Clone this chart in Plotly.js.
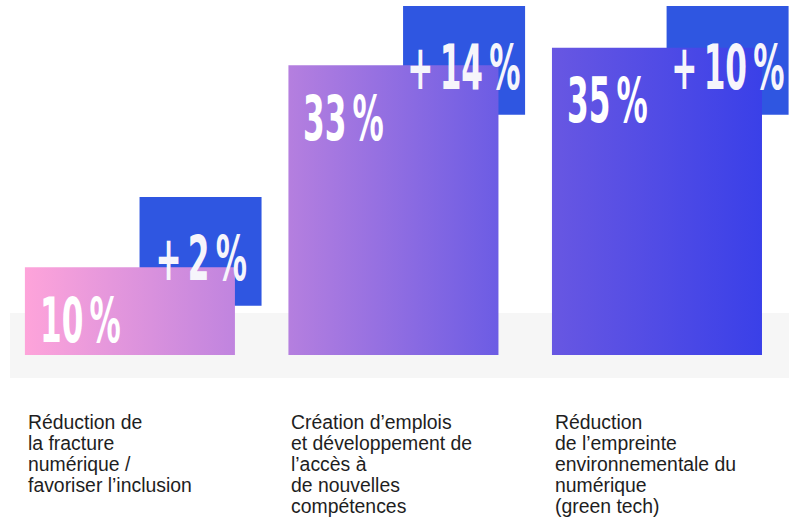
<!DOCTYPE html>
<html><head><meta charset="utf-8">
<script src="https://cdn.plot.ly/plotly-3.0.1.min.js"></script>
<style>html,body{margin:0;padding:0;background:#fff}#chart{width:789px;height:518px}</style>
</head><body><div id="chart"></div>
<script>
// ---- data ----
const categories = [0, 1, 2];
const shares = [10, 33, 35];          // % share (bar)
const increases = [2, 14, 10];        // increase (blue square)
const labelLines = [
  ["Réduction de", "la fracture", "numérique /", "favoriser l’inclusion"],
  ["Création d’emplois", "et développement de", "l’accès à", "de nouvelles", "compétences"],
  ["Réduction", "de l’empreinte", "environnementale du", "numérique", "(green tech)"]
];

// ---- layout constants ----
const BAR_W = 0.797, SQ_W = 0.463, SQ_OFF = 0.268, SQ_H = 12.4, SQ_ABOVE = 8, Y_TOP = 39.75;
const BIG_FONT = "DejaVu Sans Condensed, DejaVu Sans, sans-serif";
const BIG_SIZE = 63, SQUEEZE = 0.55;
const LBL_FONT = "Liberation Sans, Arial, Helvetica, sans-serif";
const grad = {type: 'horizontal', start: -BAR_W/2, stop: 2 + BAR_W/2,
  colorscale: [[0, '#fea4da'], [0.286, '#c084df'], [0.357, '#b57fdf'], [0.643, '#6c5ce4'], [0.714, '#6857e2'], [1, '#3a40e8']]};

const traces = [];
categories.forEach((c, i) => {
  const l = c - BAR_W/2, r = c + BAR_W/2, v = shares[i];
  traces.push({type: 'scatter', mode: 'lines', x: [l, r, r, l, l], y: [0, 0, v, v, 0],
    fill: 'toself', fillgradient: grad, fillcolor: '#9a70e0', line: {width: 0, color: 'rgba(0,0,0,0)'},
    hoverinfo: 'skip', showlegend: false});
});
const sqTop = shares.map(v => Math.min(v + SQ_ABOVE, Y_TOP));
traces.push({type: 'bar', x: categories, y: categories.map(() => SQ_H), base: sqTop.map(t => t - SQ_H),
  width: SQ_W, offset: SQ_OFF - SQ_W/2, marker: {color: 'rgba(29,72,222,0.92)', line: {width: 0}},
  hoverinfo: 'skip', showlegend: false});

const annotations = [];
const bigIdx = {};   // index -> 'left' | 'center'
categories.forEach((c, i) => {
  bigIdx[annotations.length] = 'left';
  annotations.push({x: c - BAR_W/2, y: shares[i], xref: 'x', yref: 'y', xanchor: 'left', yanchor: 'middle',
    xshift: 13, yshift: -53, showarrow: false, text: shares[i] + '\u202F%',
    font: {family: BIG_FONT, size: BIG_SIZE, color: '#ffffff', weight: 700}});
  bigIdx[annotations.length] = 'center';
  annotations.push({x: c + SQ_OFF, y: sqTop[i] - SQ_H/2, xref: 'x', yref: 'y', xanchor: 'center', yanchor: 'middle',
    yshift: -7, showarrow: false, text: '+\u2009' + increases[i] + '\u202F%',
    font: {family: BIG_FONT, size: BIG_SIZE, color: '#f6f5fb', weight: 700}});
  labelLines[i].forEach((t, k) => {
    annotations.push({x: c - BAR_W/2, y: 0, xref: 'x', yref: 'paper', xanchor: 'left', yanchor: 'top',
      xshift: 1, yshift: -31 - 21*k, showarrow: false, text: t,
      font: {family: LBL_FONT, size: 19.4, color: '#1e1e1e'}});
  });
});

const layout = {
  width: 789, height: 518, margin: {l: 0, r: 0, t: 0, b: 140},
  paper_bgcolor: '#ffffff', plot_bgcolor: 'rgba(0,0,0,0)', barmode: 'overlay', showlegend: false,
  xaxis: {range: [-0.493, 2.501], visible: false, fixedrange: true},
  yaxis: {range: [-2.62, 40.43], visible: false, fixedrange: true},
  shapes: [{type: 'rect', xref: 'paper', yref: 'paper', x0: 0.0127, x1: 1, y0: 0, y1: 0.172,
    fillcolor: '#f6f6f6', line: {width: 0}, layer: 'below'}],
  annotations: annotations
};
Plotly.newPlot('chart', traces, layout, {displayModeBar: false, staticPlot: true}).then(gd => {
  // condense the big figures horizontally (reference uses a condensed display face)
  gd.querySelectorAll('g.annotation').forEach(g => {
    const idx = +g.getAttribute('data-index');
    const mode = bigIdx[idx];
    if (!mode) return;
    const t = g.querySelector('text.annotation-text');
    if (!t) return;
    const bb = t.getBBox();
    const ax = mode === 'left' ? bb.x : bb.x + bb.width / 2;
    const prev = t.getAttribute('transform') || '';
    t.setAttribute('transform', `translate(${ax},0) scale(${SQUEEZE},1) translate(${-ax},0) ${prev}`);
  });
});
</script></body></html>
